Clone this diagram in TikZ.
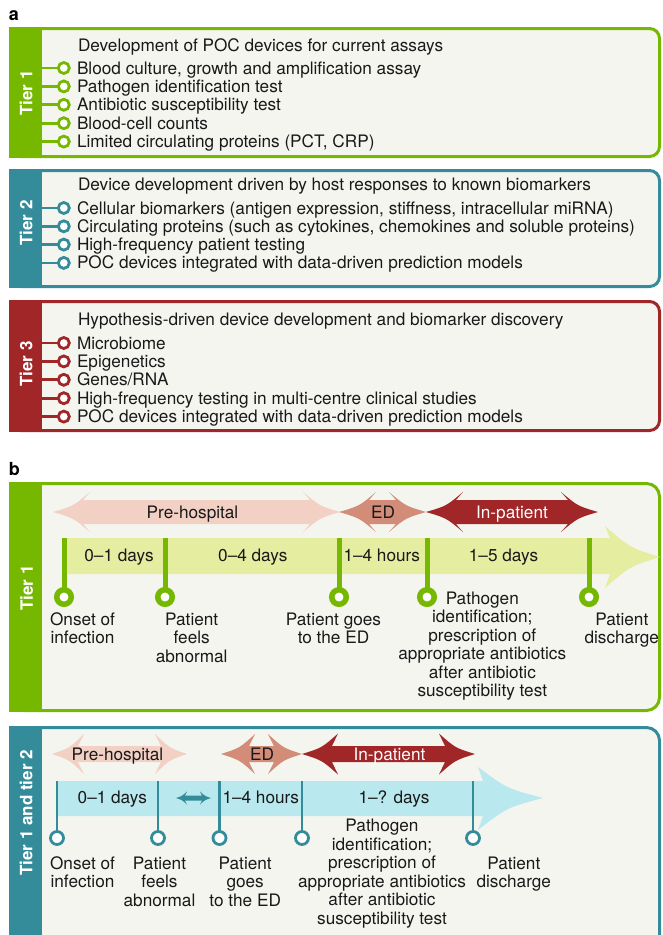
\documentclass[tikz,border=0pt]{standalone}
\usepackage{fontspec}
\setmainfont{TeX Gyre Heros}
\definecolor{tgreen}{RGB}{118,184,0}
\definecolor{tteal}{RGB}{52,140,155}
\definecolor{tred}{RGB}{160,38,40}
\definecolor{bgfill}{RGB}{245,245,240}
\definecolor{bandgreen}{RGB}{228,237,160}
\definecolor{bandcyan}{RGB}{185,232,238}
\definecolor{pinkarr}{RGB}{242,208,196}
\definecolor{salmonarr}{RGB}{210,140,120}
\definecolor{txtcol}{RGB}{25,25,25}
% double-headed arrow shape: #1 colour, #2 x1, #3 x2, #4 y, #5 shaft half height, #6 head half height, #7 head length, #8 barb offset
\newcommand\dblarrow[8]{%
  \fill[#1] (#2,#4) .. controls ({#2+0.55*#7},{#4-0.3*#6}) .. ({#2+#7},{#4-#6})
    -- ({#2+#7-#8},{#4-#5}) -- ({#3-#7+#8},{#4-#5}) -- ({#3-#7},{#4-#6})
    .. controls ({#3-0.55*#7},{#4-0.3*#6}) .. (#3,#4)
    .. controls ({#3-0.55*#7},{#4+0.3*#6}) .. ({#3-#7},{#4+#6})
    -- ({#3-#7+#8},{#4+#5}) -- ({#2+#7-#8},{#4+#5}) -- ({#2+#7},{#4+#6})
    .. controls ({#2+0.55*#7},{#4+0.3*#6}) .. (#2,#4) -- cycle;}
% list item of panel a: #1 name, #2 colour, #3 marker y, #4 text baseline, #5 text
\newcommand\aitem[5]{%
  \coordinate (#1s) at (41,#3);
  \node[mk=#2] (#1m) at (63.8,#3) {};
  \draw[line width=2.8pt, #2] (#1s) -- (#1m);
  \node[lbl] (#1t) at (77,#4) {#5};}
% tick with circle: #1 name, #2 colour, #3 x, #4 top y, #5 circle y, #6 line width, #7 circle style
\newcommand\tickmark[7]{%
  \coordinate (#1s) at (#3,#4);
  \node[#7] (#1c) at (#3,#5) {};
  \draw[line width=#6, #2] (#1s) -- (#1c);}
\begin{document}
\begin{tikzpicture}[x=1pt,y=-1pt,
  every node/.style={inner sep=0pt, outer sep=0pt},
  txt/.style={font=\fontsize{17.2}{18.5}\selectfont, text=txtcol},
  lbl/.style={txt, anchor=base west},
  ctr/.style={txt, anchor=base},
  evt/.style={txt, anchor=north, align=center},
  wtxt/.style={font=\fontsize{17.2}{18.5}\selectfont, text=white, anchor=base},
  tierlbl/.style={font=\fontsize{17}{17}\selectfont\bfseries, text=white, rotate=90},
  panellbl/.style={font=\fontsize{18}{18}\selectfont\bfseries, text=black, anchor=base west},
  mk/.style={circle, draw=#1, line width=2.8pt, fill=white, minimum size=11pt},
  bigmk/.style={circle, draw=tgreen, line width=5.5pt, fill=white, minimum size=14.5pt},
  smallmk/.style={circle, draw=tteal, line width=2.8pt, fill=white, minimum size=13pt},
  tierbox/.style={draw=#1, line width=3pt, fill=bgfill, rounded corners=10pt},
  tierboxb/.style={draw=#1, line width=3pt, fill=bgfill, rounded corners=13pt}
]
\useasboundingbox (0,0) rectangle (662,935);
\clip (0,0) rectangle (662,935);
\fill[white] (0,0) rectangle (662,935);

% ================= panel a =================
\node[panellbl] (pa) at (9,20.7) {a};

% Tier 1
\draw[tierbox=tgreen] (10.5,28.5) rectangle (659.5,156.5);
\fill[tgreen] (9,27) rectangle (42,158);
\node[tierlbl] (t1a) at (26,93) {Tier 1};
\node[lbl] (t1title) at (78,51) {Development of POC devices for current assays};
\aitem{a11}{tgreen}{68}{74}{Blood culture, growth and amplification assay}
\aitem{a12}{tgreen}{86.4}{92.4}{Pathogen identification test}
\aitem{a13}{tgreen}{104.8}{110.8}{Antibiotic susceptibility test}
\aitem{a14}{tgreen}{123.2}{129.2}{Blood-cell counts}
\aitem{a15}{tgreen}{141.6}{147.6}{Limited circulating proteins (PCT, CRP)}

% Tier 2
\draw[tierbox=tteal] (10.5,170.5) rectangle (659.5,286.5);
\fill[tteal] (9,169) rectangle (42,288);
\node[tierlbl] (t2a) at (26,223) {Tier 2};
\node[lbl] (t2title) at (78,190.7) {Device development driven by host responses to known biomarkers};
\aitem{a21}{tteal}{208}{214}{Cellular biomarkers (antigen expression, stiffness, intracellular miRNA)}
\aitem{a22}{tteal}{226.3}{232.3}{Circulating proteins (such as cytokines, chemokines and soluble proteins)}
\aitem{a23}{tteal}{244.6}{250.6}{High-frequency patient testing}
\aitem{a24}{tteal}{262.9}{268.9}{POC devices integrated with data-driven prediction models}

% Tier 3
\draw[tierbox=tred] (10.5,301.5) rectangle (659.5,430.5);
\fill[tred] (9,300) rectangle (42,432);
\node[tierlbl] (t3a) at (26,364) {Tier 3};
\node[lbl] (t3title) at (78,325.7) {Hypothesis-driven device development and biomarker discovery};
\aitem{a31}{tred}{343}{349}{Microbiome}
\aitem{a32}{tred}{361.4}{367.4}{Epigenetics}
\aitem{a33}{tred}{379.8}{385.8}{Genes/RNA}
\aitem{a34}{tred}{398.2}{404.2}{High-frequency testing in multi-centre clinical studies}
\aitem{a35}{tred}{416.6}{422.6}{POC devices integrated with data-driven prediction models}

% ================= panel b =================
\node[panellbl] (pb) at (9,475) {b};

% ---- b, tier 1 ----
\draw[tierboxb=tgreen] (10.5,483.5) rectangle (659.5,710.5);
\fill[tgreen] (9,482) rectangle (42,712);
\node[tierlbl] (b1lbl) at (26.5,588) {Tier 1};

\dblarrow{pinkarr}{53}{340}{512}{12}{20}{37}{7}
\dblarrow{salmonarr}{339}{426}{512}{12}{20}{37}{7}
\dblarrow{tred}{426}{598}{512}{12}{20}{37}{7}
\node[ctr] (b1pre) at (192.5,518.3) {Pre-hospital};
\node[ctr] (b1ed) at (383,518.3) {ED};
\node[wtxt] (b1in) at (512,518.3) {In-patient};

\fill[bandgreen] (63,538) -- (610,538) -- (605,526)
  .. controls (630,547.7) .. (660,557)
  .. controls (630,566.3) .. (605,588) -- (610,574) -- (63,574) -- cycle;

\tickmark{b1k1}{tgreen}{64}{538}{597}{5pt}{bigmk}
\tickmark{b1k2}{tgreen}{165}{538}{597}{5pt}{bigmk}
\tickmark{b1k3}{tgreen}{339}{538}{597}{5pt}{bigmk}
\tickmark{b1k4}{tgreen}{427}{538}{597}{5pt}{bigmk}
\tickmark{b1k5}{tgreen}{589}{538}{597}{5pt}{bigmk}

\node[ctr] (b1d1) at (119,561) {0--1 days};
\node[ctr] (b1d2) at (252.8,561) {0--4 days};
\node[ctr] (b1d3) at (381.8,561) {1--4 hours};
\node[ctr] (b1d4) at (503.5,561) {1--5 days};

\node[evt] (b1e1) at (82.5,612.5) {Onset of\\infection};
\node[evt] (b1e2) at (191.7,612.5) {Patient\\feels\\abnormal};
\node[evt] (b1e3) at (333.5,612.5) {Patient goes\\to the ED};
\node[evt] (b1e4) at (482.3,591.8) {Pathogen\\identification;\\prescription of\\appropriate antibiotics\\after antibiotic\\susceptibility test};
\node[evt] (b1e5) at (621.8,612.5) {Patient\\discharge};

% ---- b, tier 1 and tier 2 ----
\draw[tierboxb=tteal] (10.5,727.5) rectangle (659.5,950);
\fill[tteal] (9,726) rectangle (42,952);
\node[tierlbl] (b2lbl) at (26,813) {Tier 1 and tier 2};

\dblarrow{pinkarr}{52}{187}{754}{8}{20}{32}{6}
\dblarrow{salmonarr}{221}{302}{754}{8}{20}{34}{6}
\dblarrow{tred}{302}{475}{754}{8}{20.5}{36}{6}
\node[ctr] (b2pre) at (117.5,760) {Pre-hospital};
\node[ctr] (b2ed) at (262,760) {ED};
\node[wtxt] (b2in) at (389.5,760) {In-patient};

\fill[bandcyan] (57,781) -- (483,781) -- (478,767)
  .. controls (507,788.5) .. (543,798)
  .. controls (507,807.5) .. (478,830) -- (483,816) -- (57,816) -- cycle;

\dblarrow{tteal}{176}{211}{798}{2.5}{6.5}{11}{2}

\tickmark{b2k1}{tteal}{57}{781}{838}{2.5pt}{smallmk}
\tickmark{b2k2}{tteal}{158}{781}{838}{2.5pt}{smallmk}
\tickmark{b2k3}{tteal}{219.5}{781}{838}{2.5pt}{smallmk}
\tickmark{b2k4}{tteal}{302}{781}{838}{2.5pt}{smallmk}
\tickmark{b2k5}{tteal}{473}{781}{838}{2.5pt}{smallmk}

\node[ctr] (b2d1) at (112.3,803.3) {0--1 days};
\node[ctr] (b2d2) at (260.8,803.3) {1--4 hours};
\node[ctr] (b2d3) at (394,803.3) {1--? days};

\node[evt] (b2e1) at (82.5,856.5) {Onset of\\infection};
\node[evt] (b2e2) at (159.5,856.5) {Patient\\feels\\abnormal};
\node[evt] (b2e3) at (245.2,856.5) {Patient\\goes\\to the ED};
\node[evt] (b2e4) at (382,819.2) {Pathogen\\identification;\\prescription of\\appropriate antibiotics\\after antibiotic\\susceptibility test};
\node[evt] (b2e5) at (513.8,856.5) {Patient\\discharge};
\end{tikzpicture}
\end{document}
